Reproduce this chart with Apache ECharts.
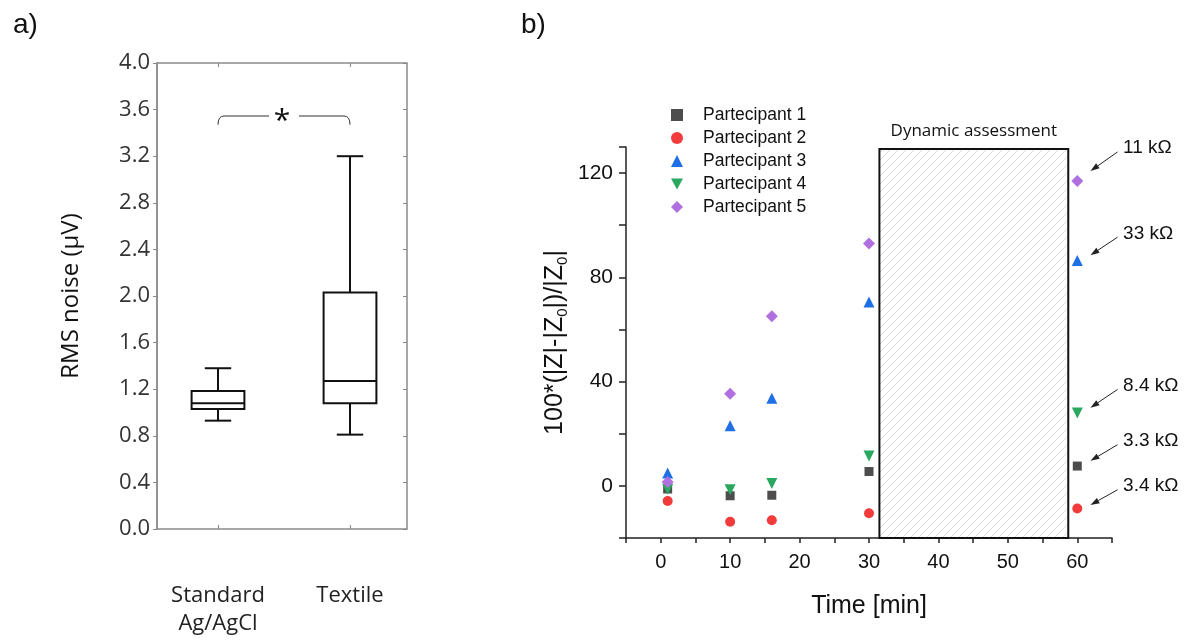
<!DOCTYPE html>
<html lang="en">
<head>
    <meta charset="UTF-8">
    <title>RMS noise and impedance change</title>
    <script type="text/javascript" src="https://cdn.jsdelivr.net/npm/echarts@6/dist/echarts.min.js"></script>
    <style>
        html, body {
            margin: 0;
            padding: 0;
            background: #fff;
        }

        #container {
            width: 1185px;
            height: 641px;
        }
    </style>
</head>
<body>
<div id="container"></div>
<script>
    // ---- panel a) box plots: [min, Q1, median, Q3, max]
    const boxCats = ['Standard\nAg/AgCl', 'Textile'];
    const boxStandard = [0.93, 1.03, 1.08, 1.185, 1.38];
    const boxTextile = [0.81, 1.08, 1.27, 2.03, 3.2];
    const bracketLevel = [3.545, 3.47];

    // ---- panel b) impedance change over time
    const times = [1, 10, 16, 30, 60];
    const p1 = [-1.2, -3.8, -3.6, 5.5, 7.6];
    const p2 = [-5.8, -13.8, -13.2, -10.5, -8.7];
    const p3 = [4.9, 23.1, 33.6, 70.5, 86.5];
    const p4 = [-1.3, -1.5, 0.9, 11.5, 28];
    const p5 = [1.5, 35.3, 65.1, 93, 117];
    const names = ['Partecipant 1', 'Partecipant 2', 'Partecipant 3', 'Partecipant 4', 'Partecipant 5'];

    const dynamicSpan = [31.5, 58.7];
    const annoLabels = ['11 kΩ', '33 kΩ', '8.4 kΩ', '3.3 kΩ', '3.4 kΩ'];
    const annoTextY = [129.6, 96.9, 38.5, 17.3, 0];
    const annoTipY = [120.8, 88.5, 30, 9.6, -7.3];

    const LEFT_FONT = '"Open Sans", "Noto Sans", sans-serif';
    const RIGHT_FONT = '"Liberation Sans", Arial, sans-serif';

    // hatch pattern for the dynamic assessment area
    const hatch = document.createElement('canvas');
    hatch.width = 8;
    hatch.height = 8;
    const hctx = hatch.getContext('2d');
    hctx.fillStyle = '#ffffff';
    hctx.fillRect(0, 0, 8, 8);
    hctx.strokeStyle = '#dedede';
    hctx.lineWidth = 1;
    hctx.beginPath();
    hctx.moveTo(-1, 9); hctx.lineTo(9, -1);
    hctx.moveTo(-1, 1); hctx.lineTo(1, -1);
    hctx.moveTo(7, 9); hctx.lineTo(9, 7);
    hctx.stroke();

    const zip = (ys) => times.map((t, i) => [t, ys[i]]);

    const colors = ['#4d4d4d', '#f23c3c', '#1f6fe5', '#2aa860', '#b070e0'];
    const symbols = ['rect', 'circle', 'triangle', 'path://M0,0L10,0L5,9Z', 'diamond'];
    const sizes = [9, 10, 11, 11, 12];

    const scatterSeries = [p1, p2, p3, p4, p5].map((ys, i) => ({
        name: names[i],
        type: 'scatter',
        xAxisIndex: 3,
        yAxisIndex: 3,
        symbol: symbols[i],
        symbolSize: sizes[i],
        itemStyle: {color: colors[i], opacity: 1},
        data: zip(ys)
    }));

    function renderBox(params, api) {
        const x = api.coord([api.value(0), 0])[0];
        const band = api.size([1, 0])[0];
        const half = band * 0.2;
        const cap = band * 0.1;
        const y = (k) => api.coord([api.value(0), api.value(k)])[1];
        const yMin = y(1), yQ1 = y(2), yMed = y(3), yQ3 = y(4), yMax = y(5);
        const st = {stroke: '#111', lineWidth: 2, fill: null};
        return {
            type: 'group',
            children: [
                {type: 'line', shape: {x1: x, y1: yMax, x2: x, y2: yQ3}, style: st},
                {type: 'line', shape: {x1: x, y1: yQ1, x2: x, y2: yMin}, style: st},
                {type: 'line', shape: {x1: x - cap, y1: yMax, x2: x + cap, y2: yMax}, style: st},
                {type: 'line', shape: {x1: x - cap, y1: yMin, x2: x + cap, y2: yMin}, style: st},
                {type: 'rect', shape: {x: x - half, y: yQ3, width: half * 2, height: yQ1 - yQ3},
                    style: {stroke: '#111', lineWidth: 2, fill: '#fff'}},
                {type: 'line', shape: {x1: x - half, y1: yMed, x2: x + half, y2: yMed}, style: st}
            ]
        };
    }

    function renderBracket(params, api) {
        const a = api.coord([api.value(0), api.value(2)]);
        const b = api.coord([api.value(1), api.value(2)]);
        const yEnd = api.coord([api.value(0), api.value(3)])[1];
        const mid = (a[0] + b[0]) / 2;
        const r = 6, gap = 15;
        const path = 'M' + a[0] + ' ' + yEnd + ' Q' + a[0] + ' ' + a[1] + ' ' + (a[0] + r) + ' ' + a[1] +
            ' L' + (mid - gap) + ' ' + a[1] +
            ' M' + (mid + gap) + ' ' + a[1] + ' L' + (b[0] - r) + ' ' + a[1] +
            ' Q' + b[0] + ' ' + a[1] + ' ' + b[0] + ' ' + yEnd;
        return {
            type: 'group',
            children: [
                {type: 'path', shape: {pathData: path}, style: {stroke: '#333', lineWidth: 1, fill: null}},
                {type: 'text', x: mid - 2, y: a[1] + 5,
                    style: {text: '*', fontSize: 30, fontFamily: LEFT_FONT, fill: '#111',
                        align: 'center', verticalAlign: 'middle'}}
            ]
        };
    }

    function renderAnno(params, api) {
        const ty = api.value(1), tipY = api.value(2);
        const tp = api.coord([66.6, ty]);
        const tail = api.coord([65.8, ty - 1.5]);
        const tip = api.coord([61.9, tipY]);
        const dx = tip[0] - tail[0], dy = tip[1] - tail[1];
        const len = Math.sqrt(dx * dx + dy * dy);
        const ux = dx / len, uy = dy / len;
        const bx = tip[0] - ux * 9, by = tip[1] - uy * 9;
        return {
            type: 'group',
            children: [
                {type: 'line', shape: {x1: tail[0], y1: tail[1], x2: bx, y2: by},
                    style: {stroke: '#222', lineWidth: 1}},
                {type: 'polygon', shape: {points: [tip, [bx - uy * 3, by + ux * 3], [bx + uy * 3, by - ux * 3]]},
                    style: {fill: '#222'}},
                {type: 'text', x: tp[0], y: tp[1],
                    style: {text: annoLabels[params.dataIndex], fontSize: 19, fontFamily: RIGHT_FONT,
                        fill: '#111', align: 'left', verticalAlign: 'middle'}}
            ]
        };
    }

    const container = document.getElementById('container');
    const myChart = echarts.init(container);

    let option = {
        animation: false,
        title: [
            {text: 'a)', left: 8, top: 6, textStyle: {fontSize: 28, fontWeight: 'normal', fontFamily: RIGHT_FONT, color: '#111'}},
            {text: 'b)', left: 516, top: 6, textStyle: {fontSize: 28, fontWeight: 'normal', fontFamily: RIGHT_FONT, color: '#111'}}
        ],
        legend: {
            data: names,
            orient: 'vertical',
            left: 666,
            top: 101,
            itemWidth: 12,
            itemHeight: 12,
            itemGap: 5,
            textStyle: {fontSize: 17.5, fontFamily: RIGHT_FONT, color: '#111', lineHeight: 17, padding: [0, 0, 0, 15]}
        },
        grid: [
            {left: 157, top: 63, width: 250, height: 466, show: true, borderColor: '#8a8a8a', borderWidth: 1.5},
            {left: 152, top: 63, width: 264, height: 466},
            {left: 626, top: 147, width: 486, height: 391}
        ],
        xAxis: [
            {gridIndex: 0, type: 'value', show: false, min: 0, max: 1},
            {
                gridIndex: 1, type: 'category', data: boxCats, position: 'bottom',
                axisLine: {show: false},
                axisTick: {show: true, inside: true, alignWithLabel: true, length: 4, lineStyle: {color: '#888'}},
                axisLabel: {fontSize: 22, fontFamily: LEFT_FONT, color: '#222', margin: 53, lineHeight: 28}
            },
            {
                gridIndex: 1, type: 'category', data: boxCats, position: 'top',
                axisLine: {show: false},
                axisTick: {show: true, inside: true, alignWithLabel: true, length: 4, lineStyle: {color: '#888'}},
                axisLabel: {show: false}
            },
            {
                gridIndex: 2, type: 'value', min: -5, max: 65, interval: 5,
                name: 'Time [min]', nameLocation: 'middle', nameGap: 56,
                nameTextStyle: {fontSize: 25, fontFamily: RIGHT_FONT, color: '#111'},
                axisLine: {onZero: false, lineStyle: {color: '#222', width: 1.5}},
                axisTick: {length: 5, lineStyle: {color: '#222', width: 1.5}},
                axisLabel: {
                    fontSize: 20, fontFamily: RIGHT_FONT, color: '#111', margin: 14,
                    formatter: v => (v >= 0 && v % 10 === 0) ? String(v) : ''
                },
                splitLine: {show: false}
            }
        ],
        yAxis: [
            {
                gridIndex: 0, type: 'value', min: 0, max: 4, interval: 0.4, position: 'left',
                name: 'RMS noise (µV)', nameLocation: 'middle', nameGap: 74,
                nameTextStyle: {fontSize: 24, fontFamily: LEFT_FONT, color: '#111'},
                axisLine: {show: true, lineStyle: {color: '#8a8a8a', width: 1.5}},
                axisTick: {show: true, length: 4, lineStyle: {color: '#888'}},
                axisLabel: {fontSize: 22, fontFamily: LEFT_FONT, color: '#333', margin: 7, formatter: v => v.toFixed(1)},
                splitLine: {show: false}
            },
            {
                gridIndex: 0, type: 'value', min: 0, max: 4, interval: 0.4, position: 'right',
                axisLine: {show: false},
                axisTick: {show: true, inside: true, length: 4, lineStyle: {color: '#888'}},
                axisLabel: {show: false},
                splitLine: {show: false}
            },
            {gridIndex: 1, type: 'value', min: 0, max: 4, show: false},
            {
                gridIndex: 2, type: 'value', min: -20, max: 130, interval: 20,
                name: '100*(|Z|-|Z{s|0}|)/|Z{s|0}|', nameLocation: 'middle', nameGap: 56,
                nameTextStyle: {
                    fontSize: 25, fontFamily: RIGHT_FONT, color: '#111', lineHeight: 30,
                    rich: {s: {fontSize: 15, fontFamily: RIGHT_FONT, color: '#111', verticalAlign: 'bottom', lineHeight: 30}}
                },
                axisLine: {show: true, onZero: false, lineStyle: {color: '#222', width: 1.5}},
                axisTick: {show: true, length: 7, lineStyle: {color: '#222', width: 1.5}},
                axisLabel: {
                    fontSize: 21, fontFamily: RIGHT_FONT, color: '#111', margin: 13,
                    formatter: v => (v % 40 === 0) ? String(v) : ''
                },
                splitLine: {show: false}
            }
        ],
        series: [
            {
                type: 'custom', xAxisIndex: 1, yAxisIndex: 2,
                renderItem: renderBox,
                encode: {x: 0, y: [1, 2, 3, 4, 5]},
                data: [[0].concat(boxStandard), [1].concat(boxTextile)]
            },
            {
                type: 'custom', xAxisIndex: 1, yAxisIndex: 2,
                renderItem: renderBracket,
                encode: {x: [0, 1], y: [2, 3]},
                data: [[0, 1, bracketLevel[0], bracketLevel[1]]]
            },
            {
                type: 'custom', xAxisIndex: 3, yAxisIndex: 3, clip: false, z: 1,
                renderItem: renderAnno,
                encode: {x: 0, y: [1, 2]},
                data: annoTextY.map((ty, i) => [66.6, ty, annoTipY[i]]),
                markArea: {
                    silent: true,
                    itemStyle: {color: {image: hatch, repeat: 'repeat'}, borderColor: '#111', borderWidth: 2},
                    label: {
                        show: true, position: 'top', distance: 8,
                        fontSize: 17, fontFamily: LEFT_FONT, color: '#111'
                    },
                    data: [[
                        {name: 'Dynamic assessment', coord: [dynamicSpan[0], 129.2]},
                        {coord: [dynamicSpan[1], -22]}
                    ]]
                }
            }
        ].concat(scatterSeries)
    };
    myChart.setOption(option);

    window.onresize = myChart.resize;
</script>
</body>
</html>
